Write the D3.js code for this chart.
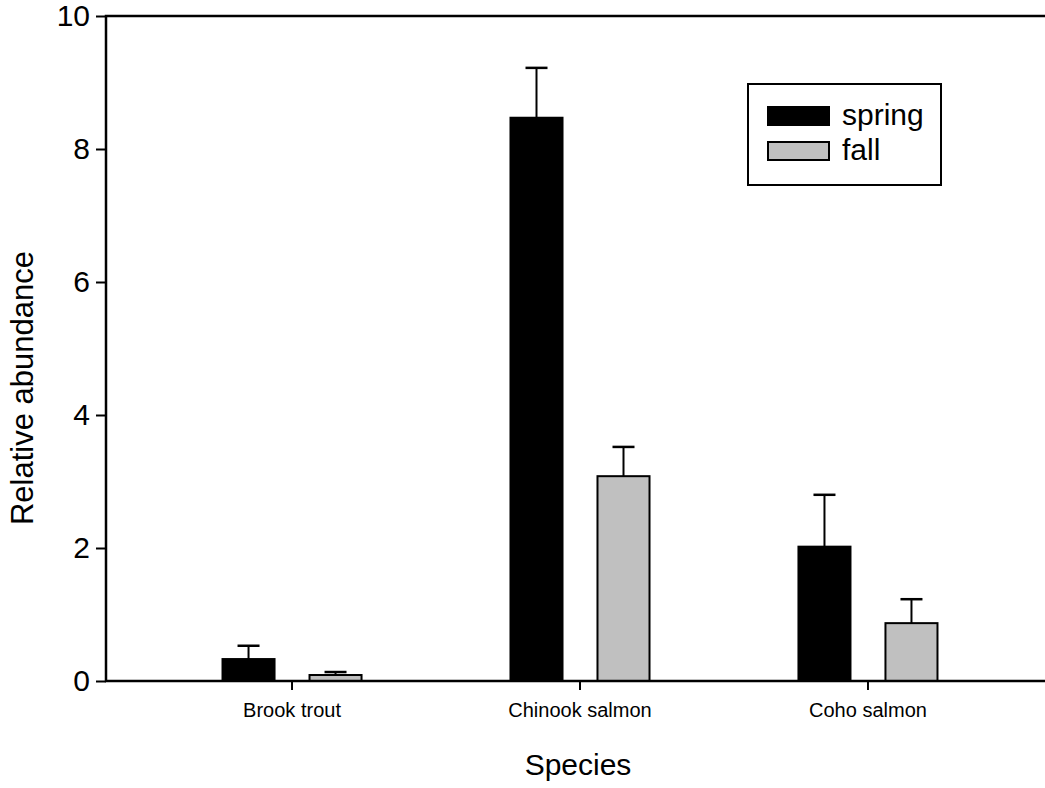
<!DOCTYPE html>
<html>
<head>
<meta charset="utf-8">
<script src="https://cdn.jsdelivr.net/npm/d3@7"></script>
<style>
  body { margin: 0; background: #fff; }
  svg { display: block; font-family: "Liberation Sans", Arial, sans-serif; }
</style>
</head>
<body>
<div id="chart"></div>
<script>
// Data
var species = ['Brook trout', 'Chinook salmon', 'Coho salmon'];
var seasons = ['spring', 'fall'];
var springMean = [0.33, 8.47, 2.02];
var springErr = [0.20, 0.75, 0.78];
var fallMean = [0.09, 3.08, 0.87];
var fallErr = [0.045, 0.44, 0.36];
var yTicks = [0, 2, 4, 6, 8, 10];

var width = 1045,
    height = 788,
    margin = { left: 106, top: 16, right: -9, bottom: 107 };

var chartWidth = width - margin.left - margin.right;
var chartHeight = height - margin.top - margin.bottom;

var fill = { spring: '#000000', fall: '#c0c0c0' };

var rows = [];
species.forEach(function(s, i) {
    rows.push({ species: s, season: 'spring', value: springMean[i], err: springErr[i] });
    rows.push({ species: s, season: 'fall', value: fallMean[i], err: fallErr[i] });
});

var svg = d3.select('#chart').append('svg')
    .attr('width', width)
    .attr('height', height)
    .attr('viewBox', '0 0 ' + width + ' ' + height);

var g = svg.append('g')
    .attr('transform', 'translate(' + margin.left + ',' + margin.top + ')');

// Scales
var xScale = d3.scaleBand()
    .domain(species)
    .range([0, chartWidth])
    .paddingInner(0)
    .paddingOuter(0.146);

var xInner = d3.scaleBand()
    .domain(seasons)
    .range([0, xScale.bandwidth()])
    .paddingInner(0.402)
    .paddingOuter(0.856);

var yScale = d3.scaleLinear()
    .domain([0, 10])
    .range([chartHeight, 0]);

// Bars
var bars = g.selectAll('.bar').data(rows).enter().append('g').attr('class', 'bar');

bars.append('rect')
    .attr('x', function(d) { return xScale(d.species) + xInner(d.season); })
    .attr('y', function(d) { return yScale(d.value); })
    .attr('width', xInner.bandwidth())
    .attr('height', function(d) { return yScale(0) - yScale(d.value); })
    .attr('fill', function(d) { return fill[d.season]; })
    .attr('stroke', '#000')
    .attr('stroke-width', 2);

// Error bars (upper only)
bars.append('line')
    .attr('x1', function(d) { return xScale(d.species) + xInner(d.season) + xInner.bandwidth() / 2; })
    .attr('x2', function(d) { return xScale(d.species) + xInner(d.season) + xInner.bandwidth() / 2; })
    .attr('y1', function(d) { return yScale(d.value); })
    .attr('y2', function(d) { return yScale(d.value + d.err); })
    .attr('stroke', '#000')
    .attr('stroke-width', 2);

bars.append('line')
    .attr('x1', function(d) { return xScale(d.species) + xInner(d.season) + xInner.bandwidth() / 2 - 11; })
    .attr('x2', function(d) { return xScale(d.species) + xInner(d.season) + xInner.bandwidth() / 2 + 11; })
    .attr('y1', function(d) { return yScale(d.value + d.err); })
    .attr('y2', function(d) { return yScale(d.value + d.err); })
    .attr('stroke', '#000')
    .attr('stroke-width', 2.5);

// Axes
var yAxis = d3.axisLeft(yScale)
    .tickValues(yTicks)
    .tickSize(10)
    .tickSizeOuter(0)
    .tickPadding(6);

var xAxis = d3.axisBottom(xScale)
    .tickSize(9)
    .tickSizeOuter(0)
    .tickPadding(13);

var gy = g.append('g').attr('class', 'axis y').call(yAxis);
gy.select('.domain').remove();
gy.selectAll('line').attr('stroke', '#000').attr('stroke-width', 2);
gy.selectAll('text').attr('font-size', 30).attr('fill', '#000');

var gx = g.append('g').attr('class', 'axis x')
    .attr('transform', 'translate(0,' + chartHeight + ')')
    .call(xAxis);
gx.select('.domain').remove();
gx.selectAll('line').attr('stroke', '#000').attr('stroke-width', 2);
gx.selectAll('text').attr('font-size', 20).attr('fill', '#000');

// Frame: left, top, bottom
g.append('path')
    .attr('d', 'M' + chartWidth + ',0H0V' + chartHeight + 'H' + chartWidth)
    .attr('fill', 'none')
    .attr('stroke', '#000')
    .attr('stroke-width', 2.5);

// Axis titles
svg.append('text')
    .attr('transform', 'translate(' + (margin.left + xScale.range()[1] / 2 - 2) + ',775)')
    .attr('text-anchor', 'middle')
    .attr('font-size', 30)
    .text('Species');

svg.append('text')
    .attr('transform', 'translate(33,388) rotate(-90)')
    .attr('text-anchor', 'middle')
    .attr('font-size', 31)
    .text('Relative abundance');

// Legend
var legend = svg.append('g').attr('class', 'legend');

legend.append('rect')
    .attr('x', 748)
    .attr('y', 84)
    .attr('width', 193)
    .attr('height', 101)
    .attr('fill', '#fff')
    .attr('stroke', '#000')
    .attr('stroke-width', 2);

var items = legend.selectAll('.item').data(seasons).enter().append('g')
    .attr('class', 'item')
    .attr('transform', function(d, i) { return 'translate(768,' + (107 + i * 35) + ')'; });

items.append('rect')
    .attr('width', 61)
    .attr('height', 18)
    .attr('fill', function(d) { return fill[d]; })
    .attr('stroke', '#000')
    .attr('stroke-width', 2);

items.append('text')
    .attr('x', 74)
    .attr('y', 18)
    .attr('font-size', 30)
    .text(function(d) { return d; });
</script>
</body>
</html>
